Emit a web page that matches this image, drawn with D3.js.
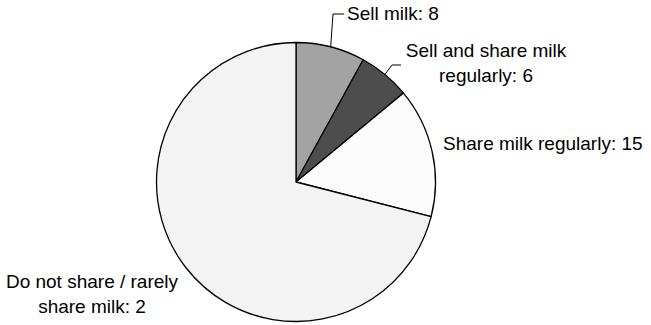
<!DOCTYPE html>
<html>
<head>
<meta charset="utf-8">
<script src="https://cdn.jsdelivr.net/npm/d3@7"></script>
<style>
  html, body { margin: 0; padding: 0; background: #fff; }
  svg { display: block; }
  text { font-family: "Liberation Sans", Arial, sans-serif; font-size: 19px; fill: #000; }
</style>
</head>
<body>
<svg id="chart" width="651" height="325"></svg>
<script>
// Milk practices: slice shares (percent) and the numbers printed beside each slice
const categories = ["Sell milk", "Sell and share milk regularly", "Share milk regularly", "Do not share / rarely share milk"];
const shares = [8, 6, 15, 71];
const labelValues = ["8", "6", "15", "2"];
const labelLines = [
  ["Sell milk: " + labelValues[0]],
  ["Sell and share milk", "regularly: " + labelValues[1]],
  ["Share milk regularly: " + labelValues[2]],
  ["Do not share / rarely", "share milk: " + labelValues[3]]
];
const fills = ["#a3a3a3", "#4d4d4d", "#fcfcfc", "#f3f3f3"];

const svg = d3.select("#chart");
const cx = 296, cy = 182, r = 139.5;

const pie = d3.pie().sort(null).value(d => d)(shares);
const arc = d3.arc().innerRadius(0).outerRadius(r);

const g = svg.append("g").attr("transform", `translate(${cx},${cy})`);
g.selectAll("path.slice")
  .data(pie)
  .join("path")
  .attr("class", "slice")
  .attr("d", arc)
  .attr("fill", (d, i) => fills[i])
  .attr("stroke", "#000")
  .attr("stroke-width", 1.3)
  .attr("stroke-linejoin", "round");

// Point on the rim at the middle of a slice
const rimMid = d => {
  const a = (d.startAngle + d.endAngle) / 2;
  return [cx + r * Math.sin(a), cy - r * Math.cos(a)];
};

// Label placement: x, first baseline, anchor and leader elbow per slice
const labelSpecs = [
  { x: 347, y: 20, anchor: "start", leader: [[333, 14], [344, 14]] },
  { x: 486, y: 57, anchor: "middle", leader: [[392, 65], [401, 65]] },
  { x: 443, y: 150, anchor: "start", leader: null },
  { x: 92, y: 288, anchor: "middle", leader: null }
];

const line = d3.line();
pie.forEach((d, i) => {
  const s = labelSpecs[i];
  if (s.leader) {
    svg.append("path")
      .attr("d", line([rimMid(d), ...s.leader]))
      .attr("fill", "none")
      .attr("stroke", "#000")
      .attr("stroke-width", 1);
  }
  const t = svg.append("text")
    .attr("x", s.x)
    .attr("y", s.y)
    .attr("text-anchor", s.anchor);
  labelLines[i].forEach((ln, k) => {
    t.append("tspan").attr("x", s.x).attr("dy", k === 0 ? 0 : 25).text(ln);
  });
});
</script>
</body>
</html>
